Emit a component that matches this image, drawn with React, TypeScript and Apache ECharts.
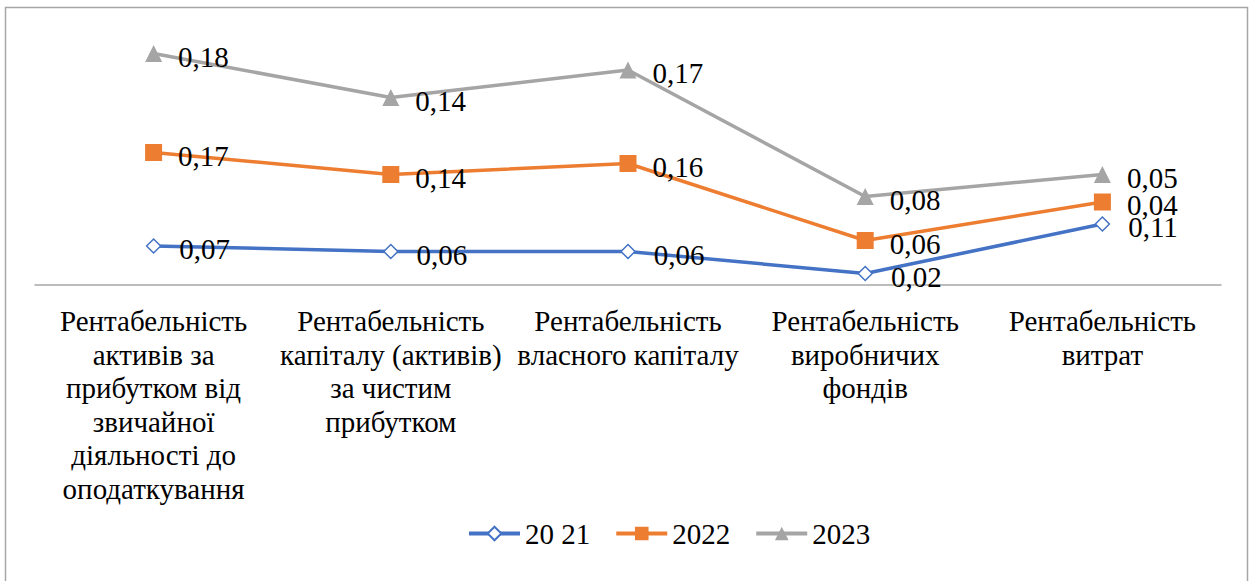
import React, { useEffect, useRef } from "react";
import * as echarts from "echarts";

const categories = [
  "Рентабельність\nактивів за\nприбутком від\nзвичайної\nдіяльності до\nоподаткування",
  "Рентабельність\nкапіталу (активів)\nза чистим\nприбутком",
  "Рентабельність\nвласного капіталу",
  "Рентабельність\nвиробничих\nфондів",
  "Рентабельність\nвитрат",
];
const seriesNames = ["20 21", "2022", "2023"];
const values2021 = [0.07, 0.06, 0.06, 0.02, 0.11];
const values2022 = [0.17, 0.14, 0.16, 0.06, 0.04];
const values2023 = [0.18, 0.14, 0.17, 0.08, 0.05];

const FONT = "Liberation Serif";

export default function App() {
  const ref = useRef<HTMLDivElement>(null);
  useEffect(() => {
    if (!ref.current) return;
    const chart = echarts.init(ref.current, null, { renderer: "svg" });
    const fmt = (p: any) => Number(p.value).toFixed(2).replace(".", ",");
    const mkLabel = (distance: number) => ({
      show: true,
      position: "right",
      distance,
      offset: [0, 3],
      formatter: fmt,
      color: "#000",
      fontSize: 29,
      fontFamily: FONT,
    });
    chart.setOption({
      animation: false,
      backgroundColor: "#fff",
      textStyle: { fontFamily: FONT },
      grid: { left: 35, right: 33, top: 37, bottom: 296.5 },
      graphic: [
        {
          type: "rect",
          shape: { x: 5.5, y: 7.5, width: 1242, height: 580 },
          style: { fill: "none", stroke: "#a6a6a6", lineWidth: 1.5 },
          silent: true,
        },
      ],
      legend: {
        left: 462,
        top: 514,
        itemWidth: 51,
        itemHeight: 17,
        itemGap: 24,
        lineStyle: { width: 4 },
        textStyle: { fontSize: 29, fontFamily: FONT, color: "#000" },
        data: seriesNames,
      },
      xAxis: {
        type: "category",
        data: categories,
        boundaryGap: true,
        axisLine: { lineStyle: { color: "#a6a6a6", width: 1.5 } },
        axisTick: { show: false },
        axisLabel: {
          interval: 0,
          margin: 20,
          fontSize: 29,
          lineHeight: 33.5,
          fontFamily: FONT,
          color: "#000",
          align: "center",
        },
      },
      yAxis: {
        type: "value",
        min: 0,
        max: 0.45,
        show: false,
        splitLine: { show: false },
      },
      series: [
        {
          name: seriesNames[0],
          type: "line",
          stack: "total",
          data: values2021,
          symbol: "diamond",
          symbolSize: 14,
          lineStyle: { color: "#4472C4", width: 3.5 },
          itemStyle: { color: "#ffffff", borderColor: "#4472C4", borderWidth: 1.5 },
          label: mkLabel(18),
          z: 2,
        },
        {
          name: seriesNames[1],
          type: "line",
          stack: "total",
          data: values2022,
          symbol: "rect",
          symbolSize: 17,
          lineStyle: { color: "#ED7D31", width: 3.5 },
          itemStyle: { color: "#ED7D31" },
          label: mkLabel(16),
          z: 3,
        },
        {
          name: seriesNames[2],
          type: "line",
          stack: "total",
          data: values2023,
          symbol: "triangle",
          symbolSize: 17,
          lineStyle: { color: "#A5A5A5", width: 3.5 },
          itemStyle: { color: "#A5A5A5" },
          label: mkLabel(16),
          z: 4,
        },
      ],
    });
    return () => chart.dispose();
  }, []);
  return (
    <div
      ref={ref}
      style={{ position: "absolute", left: 0, top: 0, width: 1254, height: 581 }}
    />
  );
}
